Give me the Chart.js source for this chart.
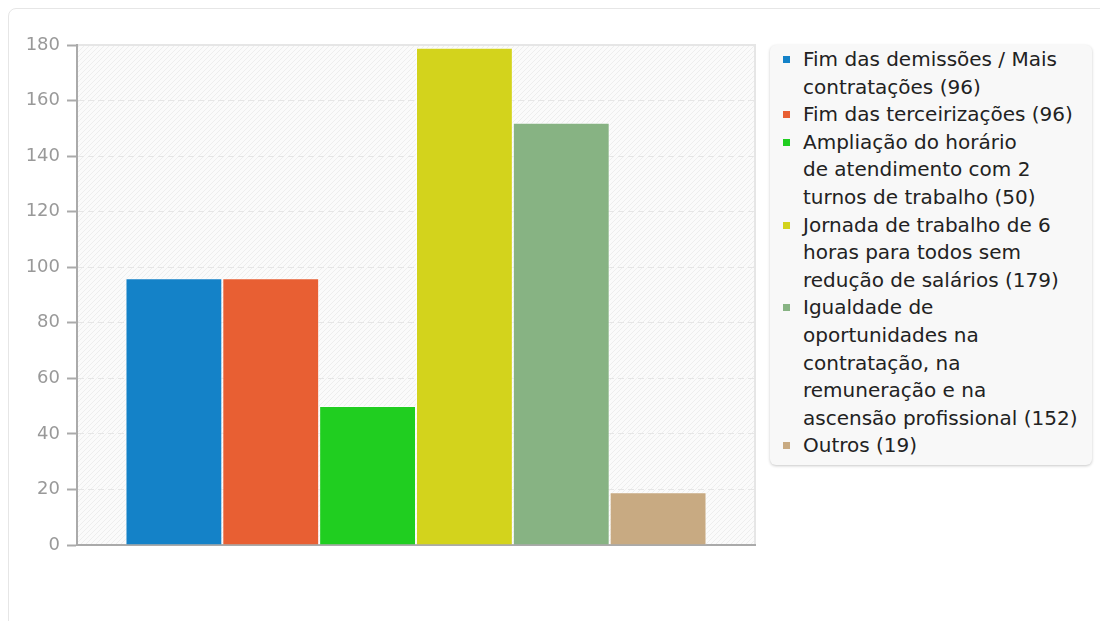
<!DOCTYPE html>
<html>
<head>
<meta charset="utf-8">
<script src="https://cdn.jsdelivr.net/npm/chart.js@4/dist/chart.umd.min.js"></script>
<style>
  body { margin: 0; background: #fff; font-family: "DejaVu Sans", sans-serif; overflow: hidden; }
  #card { position: absolute; left: 8px; top: 8px; width: 1110px; height: 700px; border: 1px solid #e6e6e6; border-radius: 8px; }
  #wrap { position: absolute; left: 0; top: 0; width: 760px; height: 621px; }
  #legend { position: absolute; left: 770px; top: 45px; width: 322px; box-sizing: border-box; padding: 1px 0 5px 0;
            background: #f8f8f8; border-radius: 6px; box-shadow: 0 1px 3px rgba(0,0,0,0.22); }
  #legend .item { position: relative; padding-left: 33px; font-size: 20px; line-height: 27.6px; color: #222; white-space: nowrap; }
  #legend .box { position: absolute; left: 13px; top: 10px; width: 7px; height: 7px; }
</style>
</head>
<body>
<div id="card"></div>
<div id="wrap"><canvas id="chart"></canvas></div>
<div id="legend"></div>
<script>
// data
var categories = [''];
var seriesNames = [
  ['Fim das demissões / Mais', 'contratações'],
  ['Fim das terceirizações'],
  ['Ampliação do horário', 'de atendimento com 2', 'turnos de trabalho'],
  ['Jornada de trabalho de 6', 'horas para todos sem', 'redução de salários'],
  ['Igualdade de', 'oportunidades na', 'contratação, na', 'remuneração e na', 'ascensão profissional'],
  ['Outros']
];
var seriesValues = [96, 96, 50, 179, 152, 19];
var seriesColors = ['#1482c8', '#e85f33', '#20ce20', '#d3d31c', '#87b383', '#c8aa82'];
var yTicks = [0, 20, 40, 60, 80, 100, 120, 140, 160, 180];

// hatched background for the plot area
function makeHatch() {
  var c = document.createElement('canvas');
  c.width = 5; c.height = 5;
  var g = c.getContext('2d');
  g.fillStyle = '#fbfbfb';
  g.fillRect(0, 0, 5, 5);
  g.strokeStyle = '#eeeeee';
  g.lineWidth = 1;
  g.beginPath();
  g.moveTo(-1, 6); g.lineTo(6, -1);
  g.stroke();
  return c;
}

var plotBg = {
  id: 'plotBg',
  beforeDraw: function(chart) {
    var a = chart.chartArea;
    var ctx = chart.ctx;
    ctx.save();
    ctx.fillStyle = ctx.createPattern(makeHatch(), 'repeat');
    ctx.fillRect(a.left, a.top, a.right - a.left, a.bottom - a.top);
    ctx.strokeStyle = '#e6e6e6';
    ctx.lineWidth = 2;
    ctx.beginPath();
    ctx.moveTo(a.left, a.top);
    ctx.lineTo(a.right, a.top);
    ctx.lineTo(a.right, a.bottom);
    ctx.stroke();
    ctx.restore();
  }
};

var datasets = [];
for (var i = 0; i < seriesValues.length; i++) {
  datasets.push({
    label: seriesNames[i].join(' ') + ' (' + seriesValues[i] + ')',
    data: [seriesValues[i]],
    backgroundColor: seriesColors[i],
    borderColor: 'rgba(255,255,255,0.55)',
    borderWidth: 1
  });
}

var ctx = document.getElementById('chart').getContext('2d');
var mychart = new Chart(ctx, {
  type: 'bar',
  data: { labels: categories, datasets: datasets },
  plugins: [plotBg],
  options: {
    responsive: true,
    maintainAspectRatio: false,
    animation: false,
    layout: { padding: { top: 45, right: 5, bottom: 76, left: 0 } },
    datasets: { bar: { categoryPercentage: 0.857, barPercentage: 1.0 } },
    plugins: { legend: { display: false }, tooltip: { enabled: false } },
    scales: {
      x: {
        grid: { display: false },
        border: { color: '#aaaaaa', width: 2 },
        ticks: { display: false },
        afterFit: function(s) { s.height = 0; }
      },
      y: {
        min: 0,
        max: 180,
        afterBuildTicks: function(s) { s.ticks = yTicks.map(function(v) { return { value: v }; }); },
        afterFit: function(s) { s.width = 77; },
        grid: { color: '#e6e6e6', tickColor: '#aaaaaa', tickLength: 10, tickWidth: 2 },
        border: { color: '#aaaaaa', width: 2, dash: [6, 4] },
        ticks: { color: '#999999', padding: 7, font: { family: 'DejaVu Sans', size: 18 } }
      }
    }
  }
});

// legend on the right, built from the same arrays
var leg = document.getElementById('legend');
for (var j = 0; j < seriesNames.length; j++) {
  var lines = seriesNames[j].slice();
  lines[lines.length - 1] += ' (' + seriesValues[j] + ')';
  var div = document.createElement('div');
  div.className = 'item';
  div.innerHTML = '<span class="box" style="background:' + seriesColors[j] + '"></span>' + lines.join('<br>');
  leg.appendChild(div);
}
</script>
</body>
</html>
